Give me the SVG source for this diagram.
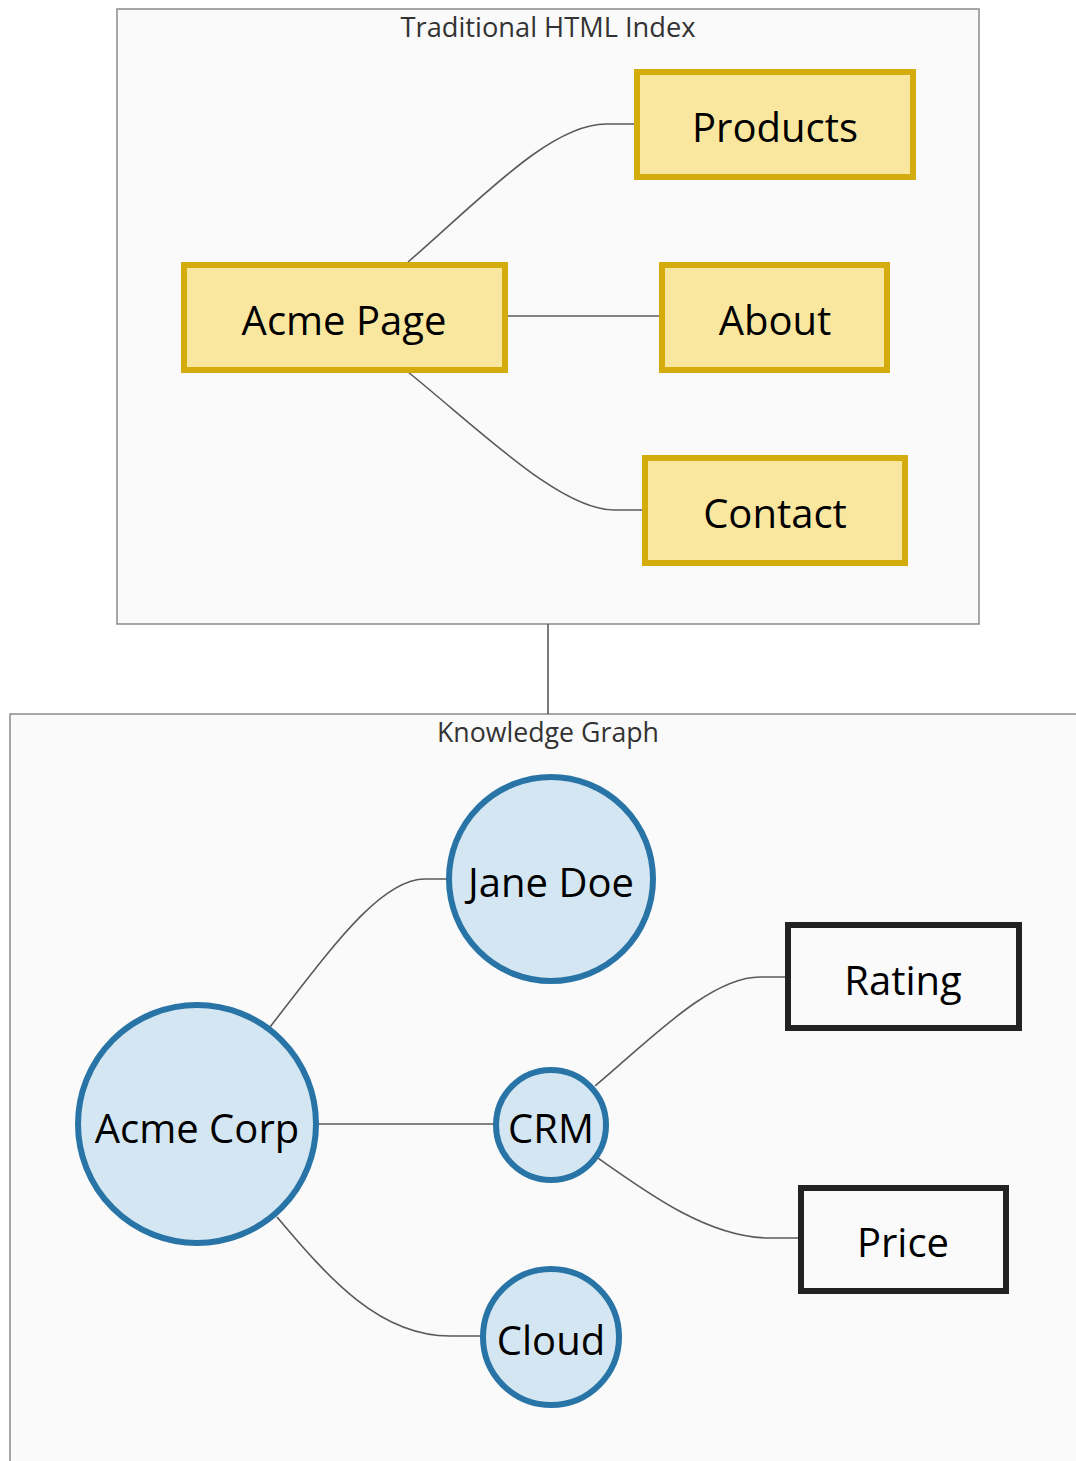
<svg xmlns="http://www.w3.org/2000/svg" width="1076" height="1461" viewBox="0 0 1076 1461">
  <style>
    .cluster { fill: #fafafa; stroke: #8a8a8a; stroke-width: 1.5; }
    .cluster-title { font-family: "Open Sans", "DejaVu Sans", sans-serif; font-size: 27px; fill: #333; text-anchor: middle; }
    .page rect { fill: #f9e79f; stroke: #d4ac0d; stroke-width: 6; }
    .entity circle { fill: #d4e6f1; stroke: #2874a6; stroke-width: 6; }
    .attr rect { fill: #fafafa; stroke: #222; stroke-width: 6; }
    .label { font-family: "Open Sans", "DejaVu Sans", sans-serif; font-size: 40px; fill: #000; text-anchor: middle; dominant-baseline: central; }
    .edge { fill: none; stroke: #5a5a5a; stroke-width: 1.6; }
  </style>

  <rect width="1076" height="1461" fill="#ffffff"/>

  <!-- subgraph containers -->
  <g id="cluster-html">
    <rect class="cluster" x="117" y="9" width="862" height="615"/>
    <text class="cluster-title" x="548" y="37" textLength="295" lengthAdjust="spacingAndGlyphs">Traditional HTML Index</text>
  </g>
  <g id="cluster-kg">
    <rect class="cluster" x="10" y="714" width="1080" height="760"/>
    <text class="cluster-title" x="548" y="742" textLength="222" lengthAdjust="spacingAndGlyphs">Knowledge Graph</text>
  </g>

  <!-- connectors -->
  <g id="edges">
    <path class="edge" d="M548,624 L548,714"/>
    <path class="edge" d="M408,262 C480,200 550,124 606,124 L636,124"/>
    <path class="edge" d="M505,316 L661,316"/>
    <path class="edge" d="M408,372 C480,430 560,510 614,510 L644,510"/>
    <path class="edge" d="M270,1027 C330,950 380,879 425,879 L449,879"/>
    <path class="edge" d="M317,1124 L496,1124"/>
    <path class="edge" d="M277,1217 C330,1280 380,1336 450,1336 L483,1336"/>
    <path class="edge" d="M595,1086 C650,1040 710,977 760,977 L787,977"/>
    <path class="edge" d="M598,1158 C650,1195 710,1238 770,1238 L800,1238"/>
  </g>

  <!-- page nodes -->
  <g id="node-products" class="page">
    <rect x="637" y="72" width="276" height="105"/>
    <text class="label" x="775" y="126">Products</text>
  </g>
  <g id="node-acme-page" class="page">
    <rect x="184" y="265" width="321" height="105"/>
    <text class="label" x="344" y="319">Acme Page</text>
  </g>
  <g id="node-about" class="page">
    <rect x="662" y="265" width="225" height="105"/>
    <text class="label" x="775" y="319">About</text>
  </g>
  <g id="node-contact" class="page">
    <rect x="645" y="458" width="260" height="105"/>
    <text class="label" x="775" y="512">Contact</text>
  </g>

  <!-- entity nodes -->
  <g id="node-jane-doe" class="entity">
    <circle cx="551" cy="879" r="102"/>
    <text class="label" x="551" y="881">Jane Doe</text>
  </g>
  <g id="node-acme-corp" class="entity">
    <circle cx="197" cy="1124" r="119"/>
    <text class="label" x="197" y="1127">Acme Corp</text>
  </g>
  <g id="node-crm" class="entity">
    <circle cx="551" cy="1125" r="55"/>
    <text class="label" x="551" y="1127">CRM</text>
  </g>
  <g id="node-cloud" class="entity">
    <circle cx="551" cy="1337" r="68"/>
    <text class="label" x="551" y="1339">Cloud</text>
  </g>

  <!-- attribute nodes -->
  <g id="node-rating" class="attr">
    <rect x="788" y="925" width="231" height="103"/>
    <text class="label" x="903" y="979">Rating</text>
  </g>
  <g id="node-price" class="attr">
    <rect x="801" y="1188" width="205" height="103"/>
    <text class="label" x="903" y="1241">Price</text>
  </g>
</svg>
